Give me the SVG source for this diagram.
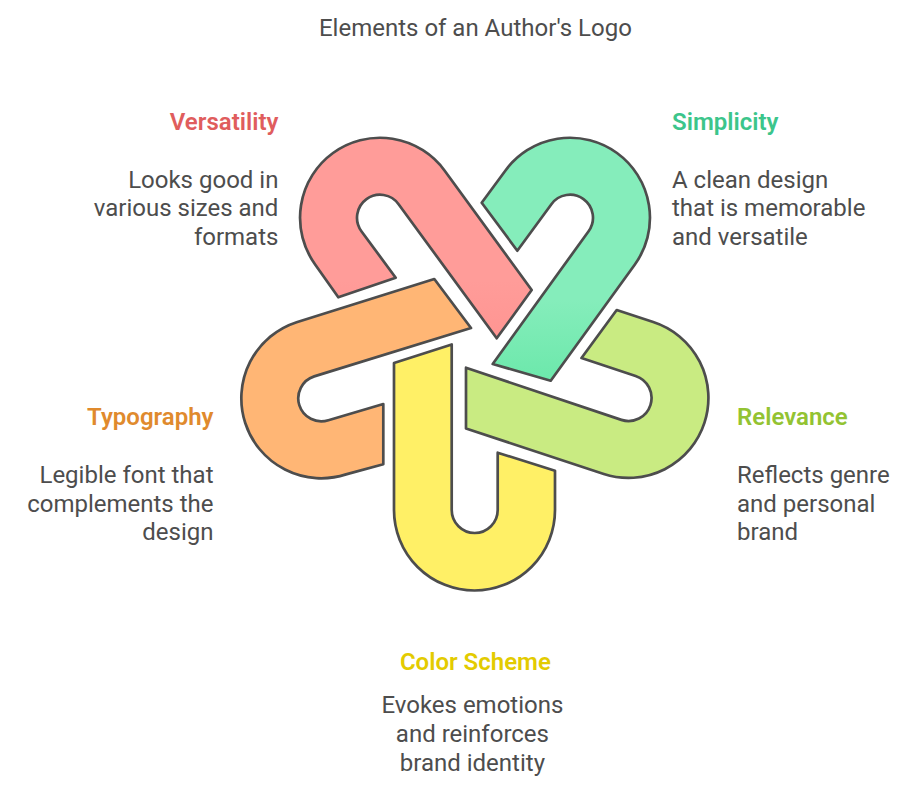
<svg xmlns="http://www.w3.org/2000/svg" width="922" height="793" viewBox="0 0 922 793">
<defs>
<style>
text{font-family:Roboto,"Liberation Sans",sans-serif;font-size:24px;fill:#4d4d4d}
.h{font-weight:600}
.e{text-anchor:end}
.m{text-anchor:middle}
.s{stroke:#4d4d4d;stroke-width:2.7;stroke-linejoin:round}
</style>
<linearGradient id="gm" gradientUnits="userSpaceOnUse" x1="0" y1="300" x2="0" y2="381"><stop offset="0" stop-color="#85edbb"/><stop offset="1" stop-color="#6ce8ab"/></linearGradient>
<linearGradient id="gp" gradientUnits="userSpaceOnUse" x1="0" y1="280" x2="0" y2="338"><stop offset="0" stop-color="#ff9c99"/><stop offset="1" stop-color="#ff9592"/></linearGradient>
</defs>
<rect width="922" height="793" fill="#fff"/>
<text id="title" x="475.4" y="36" class="m">Elements of an Author's Logo</text>
<g id="connectors"/>
<g id="node-versatility">
<path class="s" fill="url(#gp)" d="M338.3 297.3L315.3 264.7A70 70 0 0 1 444.7 170.7L531.7 290L496.7 338.3L398.6 204.2A10 10 0 0 0 361.4 231.2L395.7 277.7Z"/>
<text x="278.4" y="130" class="h e" style="fill:#e05d5d">Versatility</text>
<text x="278.4" y="188" class="e">Looks good in</text>
<text x="278.4" y="216" class="e">various sizes and</text>
<text x="278.4" y="245" class="e">formats</text>
</g>
<g id="node-simplicity">
<path class="s" fill="url(#gm)" d="M492.7 364L588.6 231.2A10 10 0 0 0 551.4 204.2L517.3 250.7L481.7 202.7L505.3 170.7A70 70 0 0 1 634.7 264.7L550.7 380.7Z"/>
<text x="672" y="130" class="h" style="fill:#3cc58b">Simplicity</text>
<text x="672" y="188">A clean design</text>
<text x="672" y="216">that is memorable</text>
<text x="672" y="245">and versatile</text>
</g>
<g id="node-relevance">
<path class="s" fill="#c9eb82" d="M466 367.7L621.4 419.9A10 10 0 0 0 635.6 376L581.5 358L616.7 310L653.2 322A70 70 0 0 1 603.8 474L466 428.5Z"/>
<text x="737" y="425" class="h" style="fill:#93c332">Relevance</text>
<text x="737" y="483">Reflects genre</text>
<text x="737" y="512">and personal</text>
<text x="737" y="540">brand</text>
</g>
<g id="node-color-scheme">
<path class="s" fill="#fff066" d="M394 363L451.7 344.5V510A10 10 0 0 0 497.7 510V452.7L555 470.7V510A70 70 0 0 1 394 510Z"/>
<text x="475.4" y="670" class="h m" style="fill:#e3cb00">Color Scheme</text>
<text x="472.4" y="713" class="m">Evokes emotions</text>
<text x="472.4" y="742" class="m">and reinforces</text>
<text x="472.4" y="771" class="m">brand identity</text>
</g>
<g id="node-typography">
<path class="s" fill="#ffb675" d="M434.3 279L296.6 322.2A70 70 0 0 0 346 474.4L383.3 464.3V404L328.4 420.2A10 10 0 0 1 314.2 376.4L471 328Z"/>
<text x="213.5" y="425" class="h e" style="fill:#e08a2d">Typography</text>
<text x="213.5" y="483" class="e">Legible font that</text>
<text x="213.5" y="512" class="e">complements the</text>
<text x="213.5" y="540" class="e">design</text>
</g>
</svg>
